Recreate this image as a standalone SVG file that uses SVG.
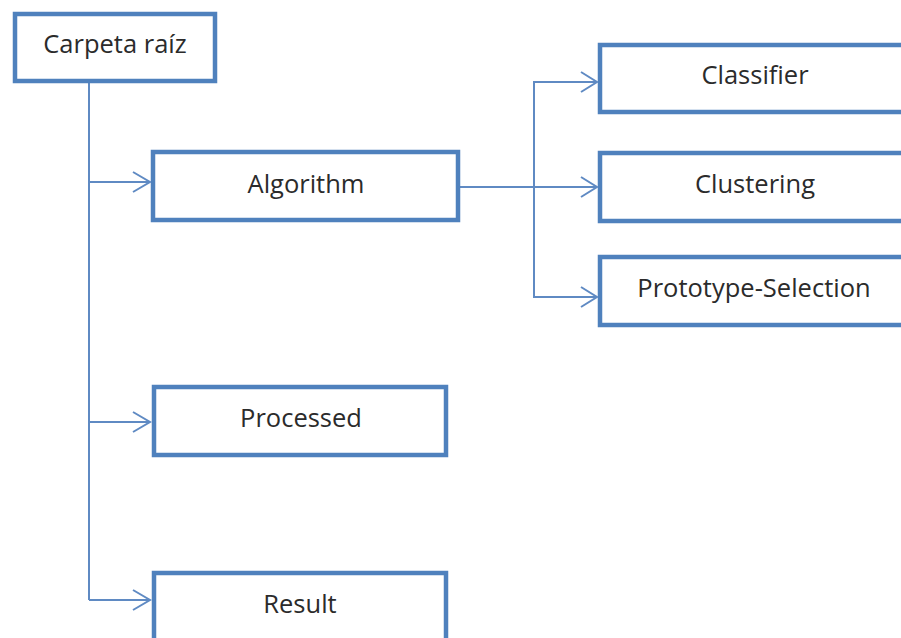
<svg xmlns="http://www.w3.org/2000/svg" width="901" height="638" viewBox="0 0 901 638">
<style>
.box{fill:#fff;stroke:#4f81bd;stroke-width:4.5}
.lbl{font-family:"Open Sans","Noto Sans",sans-serif;font-size:25.5px;fill:#2b2b2b;text-anchor:middle}
.ln{fill:none;stroke:#5f8ac3;stroke-width:2}
.ah{fill:none;stroke:#5f8ac3;stroke-width:2;stroke-linejoin:miter}
</style>
<rect width="901" height="638" fill="#fff"/>
<g id="connectors">
<path class="ln" d="M89 83 V600"/>
<path class="ln" d="M89 182 H150"/>
<path class="ln" d="M89 422 H150"/>
<path class="ln" d="M89 600 H150"/>
<path class="ah" d="M133 172 L150 182 L133 192"/>
<path class="ah" d="M133 412 L150 422 L133 432"/>
<path class="ah" d="M133 590 L150 600 L133 610"/>
<path class="ln" d="M460 187 H596"/>
<path class="ln" d="M534 187 V82 H596"/>
<path class="ln" d="M534 187 V297 H596"/>
<path class="ah" d="M581 72 L597 82 L581 92"/>
<path class="ah" d="M581 177 L597 187 L581 197"/>
<path class="ah" d="M581 287 L597 297 L581 307"/>
</g>
<g id="root"><rect class="box" x="15" y="14" width="200" height="67"/><text class="lbl" x="115" y="53">Carpeta raíz</text></g>
<g id="algorithm"><rect class="box" x="153" y="152" width="305" height="68"/><text class="lbl" x="306" y="193">Algorithm</text></g>
<g id="processed"><rect class="box" x="154" y="387" width="292" height="68"/><text class="lbl" x="301" y="427">Processed</text></g>
<g id="result"><rect class="box" x="154" y="573" width="292" height="90"/><text class="lbl" x="300" y="613">Result</text></g>
<g id="classifier"><rect class="box" x="600" y="45" width="330" height="67"/><text class="lbl" x="755" y="84">Classifier</text></g>
<g id="clustering"><rect class="box" x="600" y="153" width="330" height="68"/><text class="lbl" x="755" y="193">Clustering</text></g>
<g id="prototype"><rect class="box" x="600" y="257" width="330" height="68"/><text class="lbl" x="754" y="297">Prototype-Selection</text></g>
</svg>
